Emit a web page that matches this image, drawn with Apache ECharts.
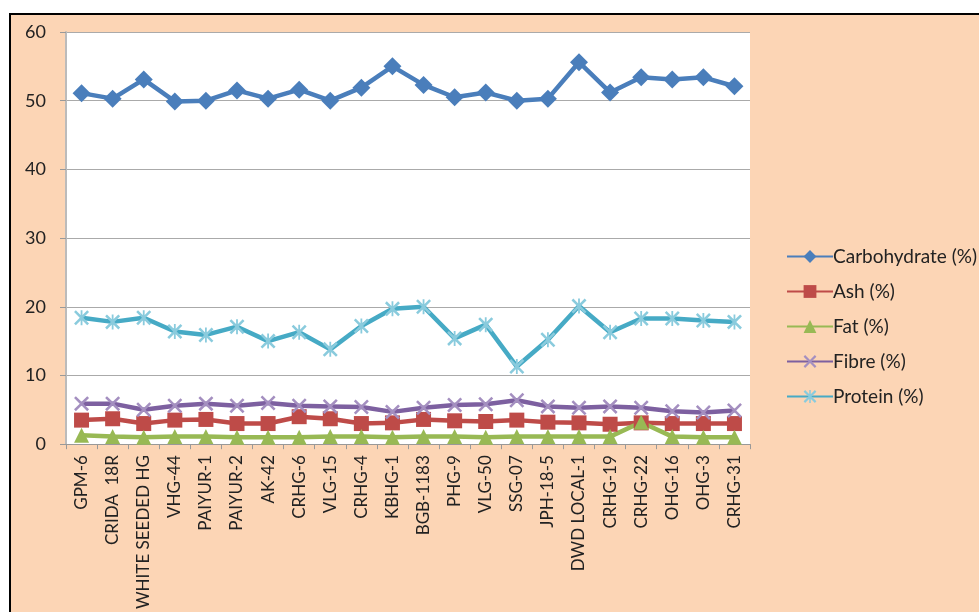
<!DOCTYPE html>
<html><head><meta charset="utf-8">
<script src="https://cdn.jsdelivr.net/npm/echarts@6/dist/echarts.min.js"></script>
<style>html,body{margin:0;padding:0;background:#fff;}#c{width:979px;height:612px;}</style>
</head><body><div id="c"></div>
<script>
var categories = ["GPM-6","CRIDA  18R","WHITE SEEDED HG","VHG-44","PAIYUR-1","PAIYUR-2","AK-42","CRHG-6","VLG-15","CRHG-4","KBHG-1","BGB-1183","PHG-9","VLG-50","SSG-07","JPH-18-5","DWD LOCAL-1","CRHG-19","CRHG-22","OHG-16","OHG-3","CRHG-31"];
var carbohydrate = [51.1,50.3,53.1,49.9,50.0,51.5,50.3,51.6,50.0,51.9,55.0,52.3,50.5,51.2,50.0,50.3,55.6,51.2,53.4,53.1,53.4,52.1];
var ash = [3.5,3.7,3.0,3.5,3.6,3.0,3.0,4.0,3.7,3.0,3.1,3.6,3.4,3.3,3.5,3.2,3.1,2.9,3.1,3.0,3.0,3.0];
var fat = [1.3,1.1,1.0,1.1,1.1,1.0,1.0,1.0,1.1,1.1,1.0,1.1,1.1,1.0,1.1,1.1,1.1,1.1,3.2,1.1,1.0,1.0];
var fibre = [5.9,5.9,5.0,5.6,5.9,5.6,6.0,5.6,5.5,5.4,4.7,5.3,5.7,5.8,6.4,5.5,5.3,5.5,5.3,4.8,4.6,4.9];
var protein = [18.4,17.8,18.4,16.4,15.9,17.1,15.0,16.3,13.8,17.2,19.7,20.0,15.4,17.4,11.3,15.2,20.1,16.3,18.3,18.3,18.0,17.8];
var yTicks = [0,10,20,30,40,50,60];

var xPath = 'path://M0,1.2L1.2,0L5,3.8L8.8,0L10,1.2L6.2,5L10,8.8L8.8,10L5,6.2L1.2,10L0,8.8L3.8,5Z';
var starPath = 'path://M0,1.2L1.2,0L5,3.8L8.8,0L10,1.2L6.2,5L10,8.8L8.8,10L5,6.2L1.2,10L0,8.8L3.8,5ZM4.4,0L5.6,0L5.6,10L4.4,10Z';

var font = 'Lato, "Open Sans", sans-serif';
function mk(name, data, color, symbol, size, symColor) {
  return {
    name: name, type: 'line', data: data, symbol: symbol, symbolSize: size,
    showAllSymbol: true,
    lineStyle: {color: color, width: 4.5},
    itemStyle: {color: symColor || color, borderWidth: 0},
    emphasis: {disabled: true}
  };
}
var chart = echarts.init(document.getElementById('c'), null, {renderer: 'canvas'});
chart.setOption({
  animation: false,
  backgroundColor: 'transparent',
  textStyle: {fontFamily: font},
  graphic: [
    {type: 'rect', z: -10, shape: {x: 10, y: 14, width: 1000, height: 700},
     style: {fill: '#FCD5B5', stroke: '#000', lineWidth: 2}},
    {type: 'rect', z: -9, shape: {x: 66, y: 32, width: 684, height: 413},
     style: {fill: '#fff'}}
  ],
  grid: {left: 66, top: 32, right: 229, bottom: 167, containLabel: false},
  legend: {
    orient: 'vertical', left: 781, top: 242, itemGap: 16,
    itemWidth: 46, itemHeight: 16,
    textStyle: {fontFamily: font, fontSize: 19, color: '#222', padding: [0,0,0,-5]},
    data: ['Carbohydrate (%)','Ash (%)','Fat (%)','Fibre (%)','Protein (%)']
  },
  xAxis: {
    type: 'category', data: categories, boundaryGap: true,
    axisLine: {lineStyle: {color: '#999', width: 1}},
    axisTick: {show: true, length: 5, lineStyle: {color: '#999'}},
    axisLabel: {rotate: 90, interval: 0, fontSize: 17, color: '#222', fontFamily: font, margin: 11}
  },
  yAxis: {
    type: 'value', min: 0, max: 60, interval: 10,
    axisLine: {show: true, lineStyle: {color: '#bbb', width: 2}},
    axisTick: {show: true, length: 6, lineStyle: {color: '#999'}},
    splitLine: {lineStyle: {color: '#aaa', width: 1}},
    axisLabel: {fontSize: 18, color: '#222', fontFamily: font, margin: 20}
  },
  series: [
    mk('Carbohydrate (%)', carbohydrate, '#4A7EBB', 'diamond', 18),
    mk('Ash (%)', ash, '#BE4B48', 'rect', 15),
    mk('Fat (%)', fat, '#98B954', 'triangle', 15),
    mk('Fibre (%)', fibre, '#7D60A0', xPath, 15, '#A48FC0'),
    mk('Protein (%)', protein, '#46AAC5', starPath, 15, '#8ACBDD')
  ]
});
</script></body></html>
